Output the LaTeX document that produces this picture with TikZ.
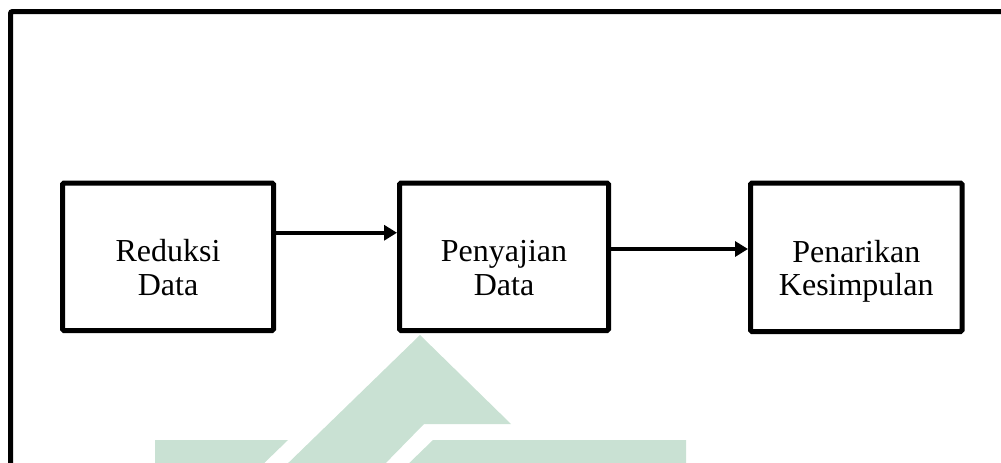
\documentclass[tikz,border=0pt]{standalone}
\usepackage{fontspec}
\setmainfont{Liberation Serif}
\usetikzlibrary{arrows.meta}
\definecolor{wmgreen}{RGB}{201,225,211}
\tikzset{
  stagebox/.style={draw=black, line width=5pt, rounded corners=1.5pt, fill=white,
    inner sep=0pt, minimum height=147.5pt},
  stagetext/.style={anchor=base, inner sep=0pt, font=\fontsize{32}{40}\selectfont},
  flow/.style={line width=4pt, -{Triangle[length=13pt,width=15pt]}},
  framepath/.style={line width=5pt, rounded corners=2pt},
  logopart/.style={fill=wmgreen, draw=none}
}
\begin{document}
\begin{tikzpicture}[x=1pt,y=-1pt]
  \useasboundingbox (0,0) rectangle (1001,463);
  \clip (0,0) rectangle (1001,463);

  % faint logo in the background
  \fill[logopart] (420,335) -- (511,424) -- (424,424) -- (379,470) -- (281,470) -- cycle;
  \fill[logopart] (155,440) -- (288,440) -- (257,470) -- (155,470) -- cycle;
  \fill[logopart] (433,440) -- (686,440) -- (686,470) -- (402,470) -- cycle;

  % outer frame, open to the right and bottom
  \draw[framepath] (10.5,475) -- (10.5,11.5) -- (1015,11.5);

  % the three stages
  \node[stagebox, minimum width=211pt] (b1) at (168,256.75) {};
  \node[stagebox, minimum width=209pt] (b2) at (504,256.75) {};
  \node[stagebox, minimum width=211.5pt, minimum height=148.5pt] (b3) at (856.25,257.25) {};

  \node[stagetext, yshift=-4.75pt]  (t1a) at (b1.center) {Reduksi};
  \node[stagetext, yshift=-38.25pt] (t1b) at (b1.center) {Data};
  \node[stagetext, yshift=-4.75pt]  (t2a) at (b2.center) {Penyajian};
  \node[stagetext, yshift=-38.25pt] (t2b) at (b2.center) {Data};
  \node[stagetext, yshift=-5.25pt]  (t3a) at (b3.center) {Penarikan};
  \node[stagetext, yshift=-37.75pt] (t3b) at (b3.center) {Kesimpulan};

  % connectors
  \draw[flow] ([yshift=24pt]b1.east) -- ([yshift=24pt]b2.west);
  \draw[flow] ([yshift=7.75pt]b2.east) -- ([yshift=8.25pt]b3.west);
\end{tikzpicture}
\end{document}
